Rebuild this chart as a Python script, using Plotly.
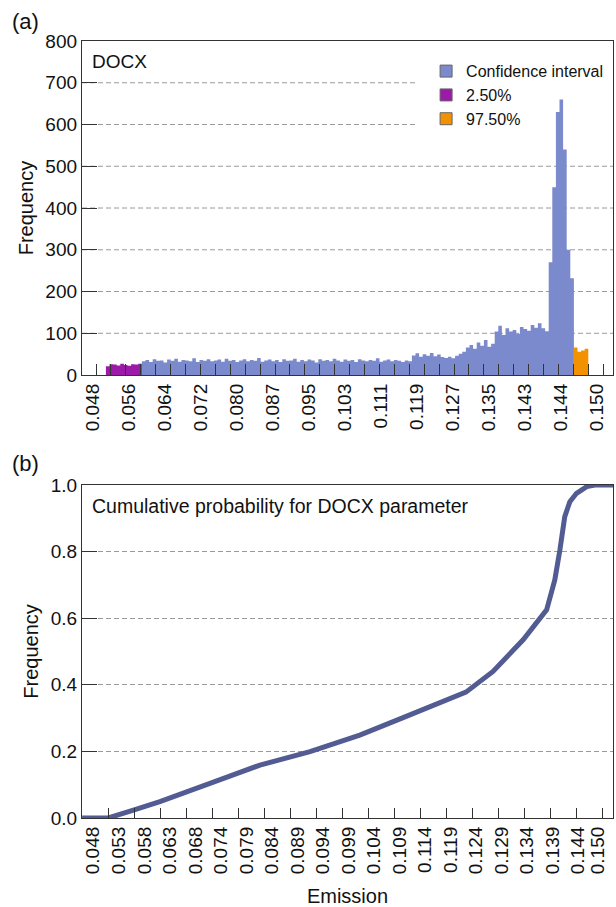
import plotly.graph_objects as go

# ---------------- data ----------------
# panel (a): histogram of DOCX emission
top_tick_labels = ["0.048", "0.056", "0.064", "0.072", "0.080", "0.087", "0.095", "0.103",
                   "0.111", "0.119", "0.127", "0.135", "0.143", "0.144", "0.150"]
freq_low = [21, 26, 25, 23, 27, 24, 22, 26, 25, 27]          # 2.50% tail
freq_ci = [33, 36, 31, 38, 34, 35, 30, 37, 34, 39,
           32, 36, 35, 33, 40, 31, 36, 34, 38, 33,
           35, 37, 32, 39, 34, 36, 31, 35, 38, 33,
           36, 34, 41, 32, 35, 37, 33, 36, 31, 38,
           34, 35, 39, 32, 36, 33, 37, 35, 30, 38,
           34, 36, 33, 39, 35, 32, 37, 34, 36, 31,
           38, 35, 33, 36, 34, 40, 32, 35, 37, 33,
           36, 34, 31, 35, 33, 47, 52, 44, 50, 46,
           53, 45, 49, 43, 41, 44, 40, 46, 51, 56,
           66, 72, 63, 78, 70, 84, 68, 75, 104, 118,
           96, 112, 104, 108, 99, 115, 110, 106, 120, 113,
           124, 112, 105, 270, 450, 630, 660, 540, 300, 232]    # confidence interval
freq_high = [66, 56, 59, 63]                                    # 97.50% tail
top_y_ticks = [0, 100, 200, 300, 400, 500, 600, 700, 800]

# panel (b): cumulative probability (x in tick-label positions)
bottom_tick_labels = ["0.048", "0.053", "0.058", "0.063", "0.068", "0.074", "0.079", "0.084",
                      "0.089", "0.094", "0.099", "0.104", "0.109", "0.114", "0.119", "0.124",
                      "0.129", "0.134", "0.139", "0.144", "0.150"]
cdf_x = [-0.44, 0.59, 1.57, 2.61, 4.57, 6.53, 8.49, 10.44, 12.09, 13.58, 14.60, 15.66,
         16.84, 17.76, 18.08, 18.28, 18.47, 18.67, 18.93, 19.33, 19.65, 20.36]
cdf_y = [0.0, 0.0, 0.024, 0.049, 0.104, 0.159, 0.199, 0.249, 0.300, 0.345, 0.378, 0.440,
         0.535, 0.625, 0.715, 0.805, 0.905, 0.950, 0.975, 0.995, 1.0, 1.0]

# ---------------- styling ----------------
BLUE = "#7b8acc"
PURPLE = "#9b1aa8"
ORANGE = "#f39200"
LINE = "#535b93"
FONT = "Liberation Sans, Arial, Helvetica, sans-serif"
AXC = "#333333"
GRID = "#9a9a9a"
DASH = "5px,3px"
LEGEND_LEFT = 0.633   # fraction of panel (a) width where the legend's white box starts

BIN0, BINW = 0.35, 0.1


def step_xy(start_bin, values):
    """bin edges + values for an 'hv' step outline of a histogram segment"""
    xs = [BIN0 + BINW * (start_bin + i) for i in range(len(values) + 1)]
    ys = list(values) + [values[-1]]
    return xs, ys


n_low, n_ci = len(freq_low), len(freq_ci)
segments = [(step_xy(n_low, freq_ci), BLUE, "Confidence interval"),
            (step_xy(0, freq_low), PURPLE, "2.50%"),
            (step_xy(n_low + n_ci, freq_high), ORANGE, "97.50%")]

fig = go.Figure()
for (xs, ys), col, name in segments:
    fig.add_trace(go.Scatter(x=xs, y=ys, mode="lines", line=dict(shape="hv", width=0, color=col),
                             fill="tozeroy", fillcolor=col, showlegend=False,
                             xaxis="x", yaxis="y", hoverinfo="skip"))
for (xs, ys), col, name in segments:
    fig.add_trace(go.Bar(x=[None], y=[None], name=name, xaxis="x", yaxis="y",
                         marker=dict(color=col, line=dict(color="#666666", width=1))))

fig.add_trace(go.Scatter(x=cdf_x, y=cdf_y, mode="lines", line=dict(color=LINE, width=5),
                         showlegend=False, xaxis="x2", yaxis="y2"))

top_minor = [0.075 + 0.4144 * k for k in range(35)]
bot_minor = [0.5875 + 1.02 * k for k in range(20)]

# panel (a) grid lines: interrupted by the legend's white box, drawn beneath the data
grid_shapes = []
for v in top_y_ticks[1:-1]:
    grid_shapes.append(dict(type="line", xref="x domain", yref="y", x0=0,
                            x1=LEGEND_LEFT if v >= 600 else 1, y0=v, y1=v,
                            line=dict(color=GRID, width=1, dash=DASH), layer="below"))

common_y = dict(showline=True, linecolor=AXC, linewidth=1.3, mirror=True,
                ticks="inside", ticklen=15, tickcolor=AXC, tickwidth=1.3,
                gridcolor=GRID, gridwidth=1, griddash=DASH,
                zeroline=False, tickfont=dict(size=19, color="#111"),
                title=dict(text="Frequency", font=dict(size=20, color="#111"), standoff=6))
common_x = dict(showline=True, linecolor=AXC, linewidth=1.3, mirror=True,
                ticks="", showgrid=False, zeroline=False, tickangle=-90,
                tickfont=dict(size=19, color="#111"), tickmode="array")

fig.update_layout(
    width=616, height=907,
    margin=dict(l=82, r=3, t=41, b=89),
    paper_bgcolor="white", plot_bgcolor="white",
    font=dict(family=FONT, color="#111"),
    barmode="overlay",
    xaxis=dict(common_x, domain=[0, 1], anchor="y", range=[-0.314, 14.436],
               tickvals=list(range(len(top_tick_labels))), ticktext=top_tick_labels,
               minor=dict(tickmode="array", tickvals=top_minor, ticks="inside", ticklen=11,
                          tickcolor=AXC, tickwidth=1.3, showgrid=False)),
    yaxis=dict(common_y, domain=[0.5701, 1], anchor="x", range=[0, 800],
               tickmode="array", tickvals=top_y_ticks, showgrid=False),
    xaxis2=dict(common_x, domain=[0, 1], anchor="y2", range=[-0.443, 20.36],
                tickvals=list(range(len(bottom_tick_labels) - 1)) + [19.75],
                ticktext=bottom_tick_labels,
                minor=dict(tickmode="array", tickvals=bot_minor, ticks="inside", ticklen=10,
                           tickcolor=AXC, tickwidth=1.3, showgrid=False),
                title=dict(text="Emission", font=dict(size=20, color="#111"), standoff=15)),
    yaxis2=dict(common_y, domain=[0, 0.4286], anchor="x2", range=[0, 1], dtick=0.2,
                tickformat=".1f", showgrid=True),
    legend=dict(x=0.648, y=0.983, xanchor="left", yanchor="top", bgcolor="rgba(0,0,0,0)",
                font=dict(size=16, color="#111"), borderwidth=0, tracegroupgap=0,
                itemclick=False),
    shapes=grid_shapes,
    annotations=[
        dict(text="(a)", x=-0.1356, y=1.0257, xref="paper", yref="paper", xanchor="left",
             yanchor="middle", showarrow=False, font=dict(size=22, color="#111")),
        dict(text="(b)", x=-0.1356, y=0.4556, xref="paper", yref="paper", xanchor="left",
             yanchor="middle", showarrow=False, font=dict(size=22, color="#111")),
        dict(text="DOCX", x=0.015, y=0.94, xref="x domain", yref="y domain", xanchor="left",
             yanchor="middle", showarrow=False, font=dict(size=19, color="#111")),
        dict(text="Cumulative probability for DOCX parameter", x=0.016, y=0.937,
             xref="x2 domain", yref="y2 domain", xanchor="left", yanchor="middle",
             showarrow=False, font=dict(size=19.5, color="#111")),
    ],
)

fig.write_html("out.html")
